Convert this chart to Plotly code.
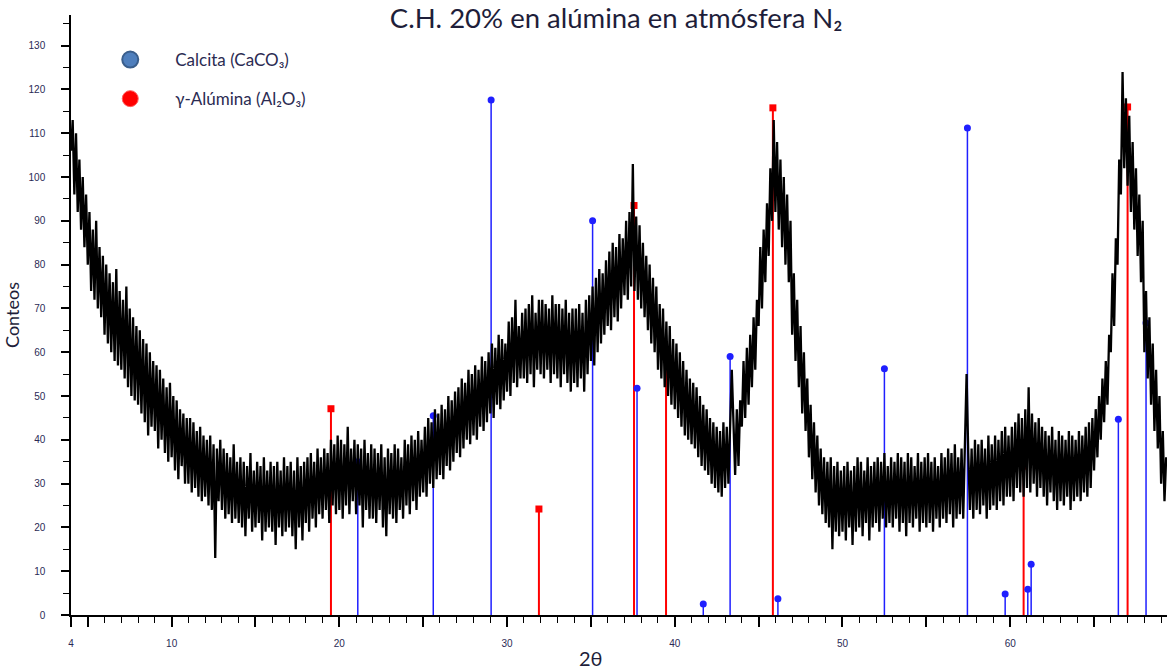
import plotly.graph_objects as go

# ---------------- data ----------------
scan_start = 4.0      # 2theta of first point
scan_step = 0.1       # 2theta step of the scan

counts = [
    106, 113, 96, 110, 92, 104, 88, 100, 84, 96,     # 4
    80, 92, 74, 88, 72, 90, 70, 84, 68, 82,          # 5
    64, 80, 62, 78, 60, 76, 58, 79, 57, 74,          # 6
    56, 72, 54, 75, 52, 70, 50, 68, 49, 66,          # 7
    48, 65, 46, 63, 44, 62, 41, 60, 43, 58,          # 8
    42, 57, 38, 56, 40, 54, 37, 52, 35, 53,          # 9
    36, 50, 33, 49, 31, 47, 34, 46, 30, 45,          # 10
    30, 45, 28, 44, 29, 42, 27, 43, 26, 41,          # 11
    27, 40, 25, 41, 24, 39, 13, 38, 26, 40,          # 12
    24, 38, 22, 37, 23, 36, 21, 39, 22, 35,          # 13
    21, 36, 20, 35, 18, 34, 22, 37, 19, 33,          # 14
    20, 35, 21, 34, 17, 36, 19, 33, 20, 35,          # 15
    19, 34, 16, 35, 20, 33, 18, 36, 19, 34,          # 16
    20, 35, 18, 33, 15, 36, 20, 34, 17, 35,          # 17
    21, 36, 19, 37, 22, 35, 20, 38, 23, 36,          # 18
    22, 38, 24, 37, 21, 40, 25, 39, 23, 41,          # 19
    24, 40, 22, 39, 25, 43, 23, 38, 26, 40,          # 20
    23, 39, 25, 38, 20, 40, 24, 37, 22, 39,          # 21
    22, 38, 21, 37, 24, 39, 20, 36, 18, 38,          # 22
    23, 37, 22, 39, 21, 38, 24, 36, 22, 40,          # 23
    25, 39, 23, 41, 26, 40, 24, 42, 27, 40,          # 24
    28, 43, 27, 45, 30, 44, 29, 47, 31, 46,          # 25
    32, 48, 31, 47, 34, 50, 33, 49, 35, 51,          # 26
    37, 52, 36, 54, 38, 53, 40, 56, 39, 55,          # 27
    41, 57, 40, 56, 43, 59, 42, 58, 44, 60,          # 28
    46, 62, 45, 61, 48, 64, 47, 63, 49, 62,          # 29
    51, 67, 50, 68, 53, 72, 52, 66, 54, 69,          # 30
    54, 70, 53, 71, 55, 73, 52, 69, 56, 72,          # 31
    55, 72, 54, 71, 56, 70, 53, 73, 55, 71,          # 32
    54, 71, 52, 70, 55, 72, 53, 69, 51, 70,          # 33
    53, 70, 52, 71, 54, 69, 51, 72, 55, 73,          # 34
    58, 75, 57, 77, 60, 79, 62, 78, 64, 81,          # 35
    66, 83, 65, 85, 68, 84, 67, 87, 70, 86,          # 36
    73, 90, 72, 92, 75, 103, 74, 91, 72, 89,         # 37
    70, 85, 68, 82, 65, 80, 62, 77, 60, 75,          # 38
    56, 71, 54, 70, 52, 67, 50, 66, 48, 63,          # 39
    47, 62, 45, 60, 43, 58, 41, 56, 40, 54,          # 40
    39, 53, 38, 52, 36, 50, 34, 48, 33, 47,          # 41
    32, 45, 30, 44, 29, 43, 28, 42, 27, 44,          # 42
    29, 43, 30, 45, 56, 44, 32, 47, 34, 49,          # 43
    43, 58, 45, 61, 48, 64, 52, 68, 56, 72,          # 44
    66, 84, 70, 88, 76, 94, 82, 102, 90, 113,        # 45
    92, 108, 88, 104, 84, 100, 80, 96, 76, 90,       # 46
    64, 78, 58, 72, 52, 66, 46, 60, 42, 54,          # 47
    36, 48, 31, 44, 28, 41, 25, 38, 23, 36,          # 48
    21, 35, 20, 36, 15, 34, 19, 35, 18, 33,          # 49
    19, 34, 17, 35, 20, 33, 16, 34, 19, 36,          # 50
    20, 35, 18, 33, 21, 36, 17, 34, 20, 35,          # 51
    21, 36, 19, 35, 22, 37, 20, 34, 21, 36,          # 52
    20, 35, 22, 37, 19, 36, 21, 35, 18, 37,          # 53
    21, 36, 20, 34, 22, 37, 19, 35, 21, 36,          # 54
    20, 37, 21, 35, 19, 36, 22, 34, 20, 37,          # 55
    22, 36, 21, 38, 23, 37, 20, 39, 22, 36,          # 56
    23, 38, 22, 39, 55, 37, 24, 38, 22, 40,          # 57
    24, 39, 23, 40, 25, 38, 22, 41, 24, 39,          # 58
    25, 41, 24, 40, 26, 42, 25, 43, 27, 41,          # 59
    27, 43, 26, 44, 29, 46, 28, 45, 27, 47,          # 60
    29, 52, 28, 46, 30, 44, 27, 45, 29, 43,          # 61
    27, 42, 25, 41, 28, 43, 26, 40, 24, 42,          # 62
    26, 41, 25, 40, 27, 42, 24, 41, 26, 40,          # 63
    27, 42, 26, 41, 28, 43, 27, 44, 29, 45,          # 64
    33, 47, 36, 50, 40, 54, 44, 58, 48, 64,          # 65
    60, 78, 66, 86, 80, 104, 96, 124, 102, 118,      # 66
    98, 114, 92, 108, 88, 102, 82, 96, 76, 90,       # 67
    60, 74, 54, 68, 48, 62, 42, 56, 38, 50,          # 68
    30, 42, 26, 36,                                  # 69
]
two_theta = [round(scan_start + scan_step * i, 2) for i in range(len(counts))]

calcita_pos = [21.1, 25.6, 29.05, 35.1, 37.75, 41.7, 43.3, 46.15, 52.5, 57.45, 59.7, 61.05, 61.25, 66.45, 68.1]
calcita_int = [35, 45.5, 117.6, 90, 51.8, 2.5, 59, 3.7, 56.2, 111.2, 4.8, 5.9, 11.6, 44.7, 66.7]

alumina_pos = [19.5, 31.9, 37.57, 39.48, 45.85, 60.8, 67.0]
alumina_int = [47.1, 24.2, 93.5, 59, 115.8, 34, 116]

x_tickvals = [4, 5, 10, 15, 20, 25, 30, 35, 40, 45, 50, 55, 60, 65]
x_ticktext = ["4", "", "10", "", "20", "", "30", "", "40", "", "50", "", "60", ""]
y_tickvals = [0, 10, 20, 30, 40, 50, 60, 70, 80, 90, 100, 110, 120, 130]

# ---------------- figure ----------------
BLUE = "#1f1fff"
RED = "#ff0000"


def stems(pos, h):
    xs, ys = [], []
    for p, v in zip(pos, h):
        xs += [p, p, None]
        ys += [0, v, None]
    return xs, ys


fig = go.Figure()

cx, cy = stems(calcita_pos, calcita_int)
fig.add_trace(go.Scatter(x=cx, y=cy, mode="lines", line=dict(color=BLUE, width=1.5),
                         showlegend=False, hoverinfo="skip"))
ax_, ay_ = stems(alumina_pos, alumina_int)
fig.add_trace(go.Scatter(x=ax_, y=ay_, mode="lines", line=dict(color=RED, width=2),
                         showlegend=False, hoverinfo="skip"))
fig.add_trace(go.Scatter(x=calcita_pos, y=calcita_int, mode="markers",
                         marker=dict(color=BLUE, size=7, symbol="circle"), showlegend=False))
fig.add_trace(go.Scatter(x=alumina_pos, y=alumina_int, mode="markers",
                         marker=dict(color=RED, size=7, symbol="square"), showlegend=False))

# diffractogram
fig.add_trace(go.Scatter(x=two_theta, y=counts, mode="lines",
                         line=dict(color="black", width=2.3), showlegend=False))

# legend entries
fig.add_trace(go.Scatter(x=[None], y=[None], mode="markers", name="Calcita (CaCO₃)",
                         legendgroup="a",
                         marker=dict(color="#4f7fbd", size=18, line=dict(color="#3a5e8c", width=2))))
fig.add_trace(go.Scatter(x=[None], y=[None], mode="markers", name="γ-Alúmina (Al₂O₃)",
                         legendgroup="b",
                         marker=dict(color="#ff0000", size=18, line=dict(color="#ff6060", width=1))))

fig.update_layout(
    width=1167, height=672,
    margin=dict(l=71, r=0, t=15, b=57),
    paper_bgcolor="white", plot_bgcolor="white",
    title=dict(text="C.H. 20% en alúmina en atmósfera N₂", x=0.528, xanchor="center",
               y=0.972, yanchor="middle", yref="container",
               font=dict(family="Lato", size=27.5, color="#1e1e3a")),
    legend=dict(x=0.013, y=0.955, xanchor="left", yanchor="top", tracegroupgap=14,
                itemwidth=80,
                font=dict(family="Lato", size=17, color="#2b2b52"),
                bgcolor="rgba(0,0,0,0)", itemsizing="trace"),
    showlegend=True,
)

fig.update_xaxes(range=[4, 69.35], showline=True, linecolor="black", linewidth=1.5,
                 showgrid=False, zeroline=False, ticks="outside", ticklen=10, tickwidth=1.5,
                 tickcolor="black", tickvals=x_tickvals, ticktext=x_ticktext,
                 tickfont=dict(family="Liberation Sans", size=10, color="#2a2a55"),
                 ticklabelstandoff=8,
                 minor=dict(dtick=1, ticks="outside", ticklen=6, tickwidth=1.2, tickcolor="black"))
fig.update_yaxes(range=[0, 137], showline=True, linecolor="black", linewidth=1.5,
                 showgrid=False, zeroline=False, ticks="outside", ticklen=8, tickwidth=1.5,
                 tickcolor="black", tickvals=y_tickvals,
                 tickfont=dict(family="Liberation Sans", size=10, color="#2a2a55"),
                 ticklabelstandoff=14,
                 title=dict(text="Conteos", standoff=4,
                            font=dict(family="Lato", size=18, color="#1e1e3a")),
                 minor=dict(dtick=5, ticks="outside", ticklen=6, tickwidth=1.2, tickcolor="black"))

fig.add_annotation(x=0.474, y=-0.072, xref="paper", yref="paper", text="2θ",
                   showarrow=False, font=dict(family="Lato", size=20, color="#1e1e3a"),
                   xanchor="center", yanchor="middle")
fig.add_annotation(x=4, y=138.5, xref="x", yref="y", ax=0, ay=10, showarrow=True,
                   arrowhead=2, arrowsize=1, arrowwidth=1.5, arrowcolor="black", text="")

fig.write_html("out.html")
